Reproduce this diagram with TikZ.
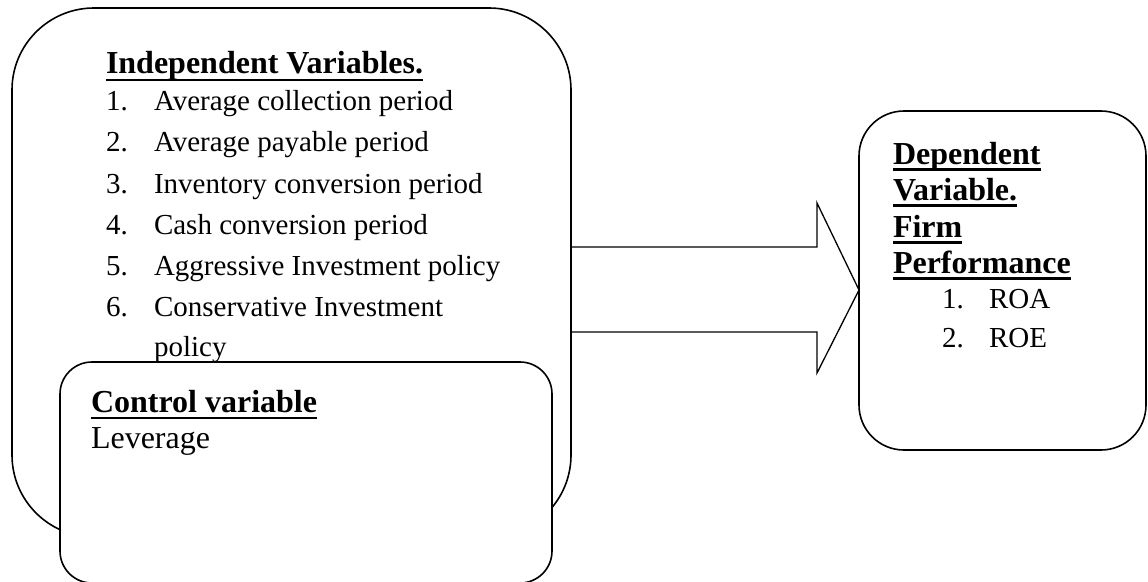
\documentclass[tikz,border=0pt]{standalone}
\usepackage{fontspec}
\setmainfont{Liberation Serif}
\begin{document}
\begin{tikzpicture}[x=1pt,y=-1pt,
  box/.style={draw, line width=1.6pt, inner sep=0pt, outer sep=0pt},
  txt/.style={anchor=base west, inner sep=0pt, outer sep=0pt},
  head/.style={txt, font=\fontsize{32}{36}\selectfont\bfseries},
  item/.style={txt, font=\fontsize{29}{34}\selectfont},
  big/.style={txt, font=\fontsize{32}{36}\selectfont},
  uline/.style={line width=2.4pt},
  arrowline/.style={line width=1.3pt, line join=miter}]
\useasboundingbox (0,0) rectangle (1148,581);

% main boxes
\node[box, rounded corners=82pt, minimum width=559pt, minimum height=529pt] (indep) at (291.5,272.5) {};
\node[box, rounded corners=45pt, minimum width=287pt, minimum height=339pt] (dep) at (1002.5,280.5) {};

% block arrow
\coordinate (tip) at (dep.west |- 0,290);
\draw[arrowline] (indep.east |- 0,247) -- (817,247) -- (817,203) -- (tip)
  -- (817,373) -- (817,332) -- (indep.east |- 0,332);

% independent variables
\node[head] (h1) at (106,73) {Independent Variables.};
\draw[uline] ([yshift=-7pt]h1.base west) -- ([yshift=-7pt]h1.base east);
\node[item] (n1) at (106,110) {1.};   \node[item] (t1) at (154,110) {Average collection period};
\node[item] (n2) at (106,151.5) {2.}; \node[item] (t2) at (154,151.5) {Average payable period};
\node[item] (n3) at (106,193) {3.};   \node[item] (t3) at (154,193) {Inventory conversion period};
\node[item] (n4) at (106,234) {4.};   \node[item] (t4) at (154,234) {Cash conversion period};
\node[item] (n5) at (106,275) {5.};   \node[item] (t5) at (154,275) {Aggressive Investment policy};
\node[item] (n6) at (106,316.5) {6.}; \node[item] (t6) at (154,316.5) {Conservative Investment};
\node[item] (t6b) at (154,356) {policy};

% control box
\node[box, fill=white, rounded corners=32pt, minimum width=492pt, minimum height=221pt] (ctrl) at (306,472.5) {};
\node[head] (h2) at (91,412) {Control variable};
\draw[uline] ([yshift=-6pt]h2.base west) -- ([yshift=-6pt]h2.base east);
\node[big] (lev) at (91,448) {Leverage};

% dependent variable
\node[head] (d1) at (893,164) {Dependent};
\node[head] (d2) at (893,200) {Variable.};
\node[head] (d3) at (893,237) {Firm};
\node[head] (d4) at (893,273) {Performance};
\foreach \n in {d1,d2,d3,d4}
  \draw[uline] ([yshift=-5.5pt]\n.base west) -- ([yshift=-5.5pt]\n.base east);
\node[item] (r1n) at (942,308) {1.}; \node[item] (r1) at (989,308) {ROA};
\node[item] (r2n) at (942,347) {2.}; \node[item] (r2) at (989,347) {ROE};
\end{tikzpicture}
\end{document}
